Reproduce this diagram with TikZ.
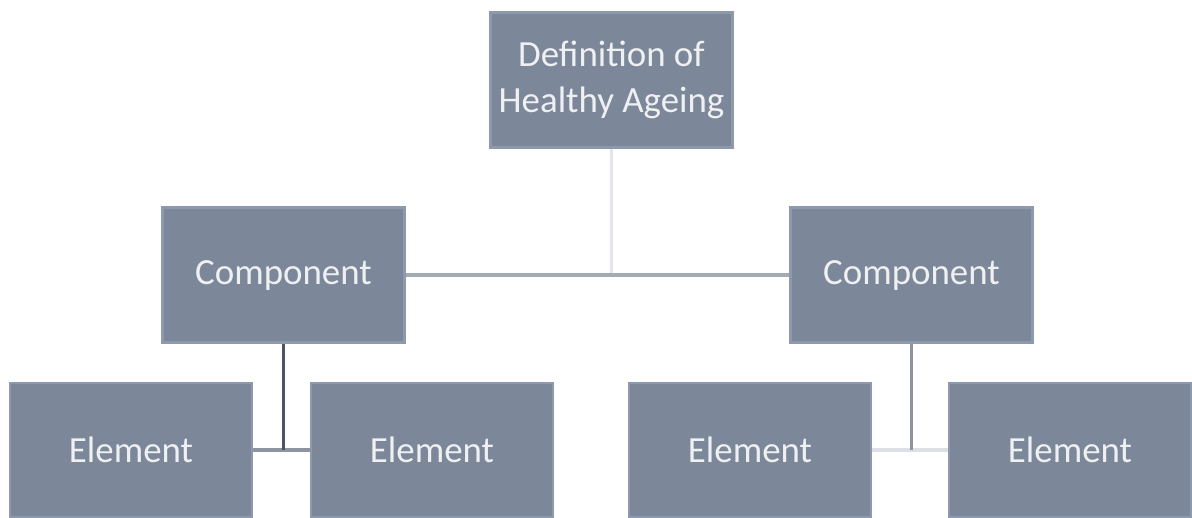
\documentclass[tikz,border=0pt]{standalone}
\usepackage{fontspec}
\setmainfont{Carlito}
\usepackage{tikz}

\definecolor{boxfill}{HTML}{7C8799}
\definecolor{boxedge}{HTML}{8D99AD}
\definecolor{boxtext}{HTML}{EEF0F2}
\definecolor{linetop}{HTML}{E3E6EA}
\definecolor{linemid}{HTML}{A4AAB2}
\definecolor{linedark}{HTML}{4A5469}
\definecolor{linegray}{HTML}{8E95A0}
\definecolor{linelight}{HTML}{DCDFE3}

\begin{document}
\begin{tikzpicture}[x=0.02cm, y=-0.02cm]
    \tikzstyle{box}=[rectangle, fill=boxfill, draw=boxedge, line width=1.4pt, inner sep=0pt, minimum width=4.84cm, minimum height=2.70cm, text=boxtext, align=center, font=\fontsize{21}{26.5}\selectfont]
    \tikzstyle{link}=[line width=2.2pt]

    \useasboundingbox (0,0) rectangle (1192,517);

% The hierarchy: one definition, two components, each with two elements.

    \node [box] (def) at (611.5,80) {Definition of\\Healthy Ageing};
    \node [box] (compA) at (283.5,275) {Component};
    \node [box] (compB) at (911.5,275) {Component};
    \node [box, minimum height=2.68cm] (elemA) at (131,450) {Element};
    \node [box, minimum height=2.68cm] (elemB) at (432,450) {Element};
    \node [box, minimum height=2.68cm] (elemC) at (750,450) {Element};
    \node [box, minimum height=2.68cm] (elemD) at (1070,450) {Element};

    \coordinate (hub) at (def.south |- compA.east);
    \coordinate (hubA) at (compA.south |- elemA.east);
    \coordinate (hubB) at (compB.south |- elemC.east);

    \draw [link, linetop] (def) -- (hub);
    \draw [link, linemid] (compA) -- (compB);
    \draw [link, linegray] (elemA) -- (elemB);
    \draw [link, linedark] (compA) -- (hubA);
    \draw [link, linelight] (elemC) -- (elemD);
    \draw [link, linegray] (compB) -- (hubB);

\end{tikzpicture}
\end{document}
